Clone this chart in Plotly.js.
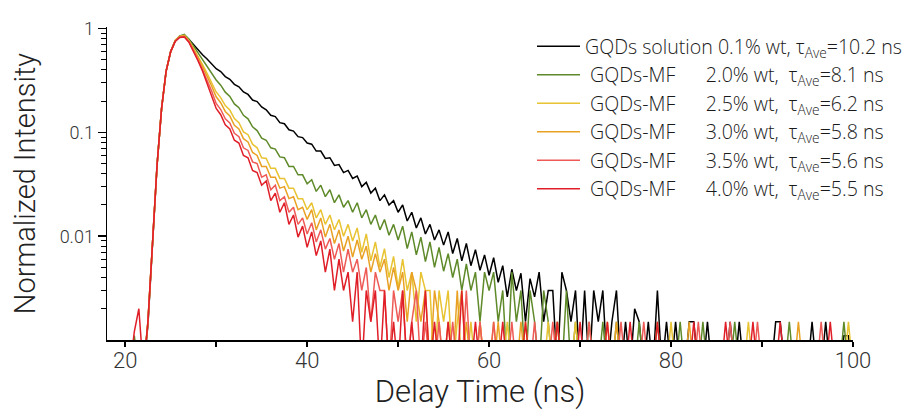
<!DOCTYPE html>
<html>
<head>
<meta charset="utf-8">
<script src="https://cdn.plot.ly/plotly-3.0.1.min.js"></script>
<style>html,body{margin:0;padding:0;background:#fff;}#chart{width:914px;height:410px;}</style>
</head>
<body>
<div id="chart"></div>
<script>
// Delay time grid (ns)
const delayTime = [
20.5,21,21.5,22,22.5,23,23.5,24,24.5,25,
25.5,26,26.5,27,27.5,28,28.5,29,29.5,30,
30.5,31,31.5,32,32.5,33,33.5,34,34.5,35,
35.5,36,36.5,37,37.5,38,38.5,39,39.5,40,
40.5,41,41.5,42,42.5,43,43.5,44,44.5,45,
45.5,46,46.5,47,47.5,48,48.5,49,49.5,50,
50.5,51,51.5,52,52.5,53,53.5,54,54.5,55,
55.5,56,56.5,57,57.5,58,58.5,59,59.5,60,
60.5,61,61.5,62,62.5,63,63.5,64,64.5,65,
65.5,66,66.5,67,67.5,68,68.5,69,69.5,70,
70.5,71,71.5,72,72.5,73,73.5,74,74.5,75,
75.5,76,76.5,77,77.5,78,78.5,79,79.5,80,
80.5,81,81.5,82,82.5,83,83.5,84,84.5,85,
85.5,86,86.5,87,87.5,88,88.5,89,89.5,90,
90.5,91,91.5,92,92.5,93,93.5,94,94.5,95,
95.5,96,96.5,97,97.5,98,98.5,99,99.5,100];

const solution01 = [
0.0005,0.0005,0.0005,0.0005,0.0014,0.0085,0.048,0.17,0.39,0.60,
0.76,0.84,0.86,0.79,0.70,0.62,0.56,0.51,0.46,0.41,
0.385,0.345,0.325,0.29,0.275,0.245,0.232,0.205,0.198,0.176,
0.165,0.146,0.142,0.124,0.121,0.106,0.103,0.091,0.089,0.079,
0.077,0.066,0.066,0.056,0.057,0.048,0.049,0.041,0.043,0.036,
0.038,0.030,0.033,0.026,0.029,0.022,0.025,0.020,0.022,0.017,
0.020,0.014,0.017,0.012,0.015,0.0105,0.013,0.0092,0.0115,0.0082,
0.011,0.0068,0.0095,0.0058,0.0085,0.0052,0.0074,0.0047,0.0066,0.0042,
0.0062,0.0036,0.0052,0.0026,0.0048,0.0030,0.0044,0.0015,0.0039,0.0026,
0.0045,0.0015,0.0030,0.0030,0.0005,0.0045,0.0030,0.0015,0.0030,0.0005,
0.0030,0.0005,0.0030,0.0015,0.0030,0.0005,0.0015,0.0030,0.0005,0.0015,
0.0005,0.0020,0.0015,0.0005,0.0015,0.0005,0.0030,0.0005,0.0015,0.0005,
0.0015,0.0005,0.0005,0.0015,0.0015,0.0005,0.0005,0.0015,0.0005,0.0005,
0.0005,0.0005,0.0015,0.0005,0.0015,0.0005,0.0005,0.0005,0.0005,0.0005,
0.0005,0.0005,0.0015,0.0015,0.0005,0.0005,0.0005,0.0005,0.0005,0.0005,
0.0015,0.0005,0.0005,0.0015,0.0005,0.0005,0.0005,0.0011,0.0011,0.0005];

const mf20 = [
0.0005,0.0011,0.0005,0.0005,0.0015,0.0085,0.048,0.17,0.39,0.60,
0.77,0.85,0.88,0.79,0.68,0.58,0.50,0.43,0.37,0.32,
0.285,0.244,0.222,0.188,0.173,0.146,0.135,0.113,0.104,0.088,
0.084,0.071,0.069,0.058,0.057,0.047,0.047,0.039,0.039,0.032,
0.035,0.027,0.031,0.024,0.028,0.021,0.025,0.019,0.022,0.017,
0.021,0.015,0.018,0.013,0.016,0.0115,0.0145,0.0102,0.013,0.0092,
0.0125,0.0076,0.011,0.0066,0.0098,0.0057,0.0088,0.0050,0.0078,0.0046,
0.0068,0.0040,0.0060,0.0030,0.0054,0.0030,0.0045,0.0015,0.0045,0.0030,
0.0045,0.0015,0.0030,0.0005,0.0045,0.0015,0.0030,0.0005,0.0030,0.0015,
0.0005,0.0030,0.0015,0.0005,0.0015,0.0005,0.0030,0.0005,0.0015,0.0005,
0.0005,0.0015,0.0005,0.0005,0.0015,0.0005,0.0005,0.0015,0.0005,0.0005,
0.0005,0.0005,0.0015,0.0005,0.0005,0.0005,0.0015,0.0005,0.0005,0.0005,
0.0005,0.0015,0.0005,0.0005,0.0005,0.0005,0.0015,0.0005,0.0005,0.0005,
0.0005,0.0005,0.0005,0.0015,0.0005,0.0005,0.0005,0.0005,0.0005,0.0005,
0.0005,0.0005,0.0005,0.0005,0.0005,0.0015,0.0005,0.0005,0.0005,0.0005,
0.0005,0.0005,0.0005,0.0005,0.0005,0.0005,0.0005,0.0015,0.0005,0.0005];

const mf25 = [
0.0005,0.0005,0.0005,0.0005,0.0015,0.0085,0.048,0.17,0.39,0.60,
0.77,0.84,0.86,0.77,0.65,0.54,0.45,0.37,0.30,0.245,
0.216,0.181,0.164,0.136,0.124,0.101,0.095,0.077,0.071,0.057,
0.056,0.045,0.045,0.036,0.036,0.029,0.029,0.023,0.023,0.018,
0.021,0.015,0.018,0.013,0.016,0.0115,0.0145,0.010,0.013,0.0090,
0.012,0.0070,0.0105,0.0058,0.0088,0.0050,0.0076,0.0040,0.0064,0.0032,
0.0060,0.0030,0.0045,0.0015,0.0045,0.0030,0.0030,0.0005,0.0030,0.0015,
0.0030,0.0005,0.0015,0.0030,0.0005,0.0015,0.0005,0.0015,0.0005,0.0005,
0.0015,0.0005,0.0005,0.0015,0.0005,0.0005,0.0005,0.0015,0.0005,0.0005,
0.0005,0.0005,0.0015,0.0005,0.0005,0.0005,0.0005,0.0005,0.0015,0.0005,
0.0005,0.0005,0.0005,0.0005,0.0005,0.0015,0.0005,0.0005,0.0005,0.0005,
0.0005,0.0005,0.0005,0.0005,0.0005,0.0005,0.0005,0.0005,0.0005,0.0015,
0.0005,0.0005,0.0005,0.0005,0.0005,0.0005,0.0005,0.0005,0.0005,0.0005,
0.0005,0.0005,0.0005,0.0005,0.0005,0.0005,0.0015,0.0005,0.0005,0.0005,
0.0005,0.0005,0.0005,0.0005,0.0005,0.0005,0.0005,0.0005,0.0005,0.0005,
0.0005,0.0005,0.0005,0.0005,0.0005,0.0005,0.0005,0.0005,0.0015,0.0005];

const mf30 = [
0.0005,0.0005,0.0005,0.0005,0.0015,0.0085,0.048,0.17,0.39,0.60,
0.76,0.84,0.85,0.76,0.64,0.53,0.43,0.35,0.28,0.22,
0.193,0.159,0.144,0.117,0.108,0.087,0.081,0.064,0.060,0.047,
0.047,0.037,0.037,0.029,0.030,0.023,0.024,0.018,0.019,0.0145,
0.018,0.0115,0.015,0.0098,0.013,0.0085,0.0115,0.0072,0.0100,0.0063,
0.0092,0.0060,0.0080,0.0045,0.0068,0.0045,0.0060,0.0030,0.0050,0.0030,
0.0045,0.0015,0.0045,0.0030,0.0015,0.0030,0.0005,0.0030,0.0015,0.0005,
0.0015,0.0005,0.0030,0.0005,0.0015,0.0005,0.0005,0.0015,0.0005,0.0005,
0.0005,0.0015,0.0005,0.0005,0.0005,0.0005,0.0015,0.0005,0.0005,0.0005,
0.0005,0.0005,0.0005,0.0005,0.0015,0.0005,0.0005,0.0005,0.0005,0.0005,
0.0005,0.0005,0.0005,0.0005,0.0005,0.0005,0.0005,0.0015,0.0005,0.0005,
0.0005,0.0005,0.0005,0.0005,0.0005,0.0005,0.0005,0.0005,0.0005,0.0005,
0.0005,0.0005,0.0005,0.0015,0.0005,0.0005,0.0005,0.0005,0.0005,0.0005,
0.0005,0.0005,0.0005,0.0005,0.0005,0.0005,0.0005,0.0005,0.0005,0.0005,
0.0005,0.0005,0.0005,0.0005,0.0005,0.0005,0.0005,0.0015,0.0005,0.0005,
0.0005,0.0005,0.0005,0.0005,0.0005,0.0005,0.0005,0.0005,0.0005,0.0005];

const mf35 = [
0.0005,0.0005,0.0005,0.0005,0.0015,0.0085,0.048,0.17,0.39,0.60,
0.76,0.83,0.84,0.75,0.62,0.50,0.40,0.32,0.25,0.19,
0.166,0.135,0.123,0.098,0.091,0.071,0.067,0.052,0.050,0.037,
0.039,0.028,0.031,0.022,0.024,0.017,0.019,0.013,0.015,0.0105,
0.0135,0.0088,0.0115,0.0075,0.0095,0.0060,0.0085,0.0045,0.0075,0.0045,
0.0060,0.0030,0.0050,0.0015,0.0045,0.0030,0.0030,0.0005,0.0030,0.0015,
0.0030,0.0005,0.0015,0.0030,0.0005,0.0015,0.0005,0.0005,0.0015,0.0005,
0.0005,0.0015,0.0005,0.0005,0.0030,0.0005,0.0005,0.0015,0.0005,0.0005,
0.0015,0.0005,0.0005,0.0005,0.0015,0.0005,0.0005,0.0005,0.0005,0.0015,
0.0005,0.0005,0.0005,0.0015,0.0005,0.0005,0.0005,0.0005,0.0005,0.0005,
0.0005,0.0015,0.0005,0.0005,0.0005,0.0005,0.0005,0.0005,0.0015,0.0005,
0.0005,0.0005,0.0005,0.0015,0.0005,0.0005,0.0005,0.0005,0.0005,0.0005,
0.0005,0.0005,0.0005,0.0005,0.0005,0.0015,0.0005,0.0005,0.0005,0.0005,
0.0005,0.0005,0.0015,0.0005,0.0005,0.0005,0.0005,0.0005,0.0015,0.0005,
0.0005,0.0005,0.0005,0.0005,0.0005,0.0005,0.0005,0.0005,0.0005,0.0005,
0.0005,0.0005,0.0015,0.0005,0.0005,0.0005,0.0005,0.0005,0.0005,0.0005];

const mf40 = [
0.0005,0.0012,0.0020,0.0005,0.0015,0.0085,0.048,0.17,0.39,0.60,
0.75,0.82,0.83,0.74,0.61,0.49,0.39,0.30,0.23,0.17,
0.148,0.118,0.108,0.084,0.079,0.060,0.057,0.043,0.041,0.031,
0.034,0.022,0.026,0.017,0.021,0.013,0.016,0.0098,0.0125,0.0078,
0.0110,0.0065,0.0090,0.0045,0.0075,0.0030,0.0060,0.0030,0.0045,0.0015,
0.0045,0.0005,0.0030,0.0015,0.0030,0.0005,0.0030,0.0005,0.0015,0.0005,
0.0030,0.0005,0.0015,0.0005,0.0005,0.0030,0.0005,0.0015,0.0005,0.0005,
0.0015,0.0005,0.0005,0.0030,0.0005,0.0005,0.0015,0.0005,0.0005,0.0005,
0.0005,0.0005,0.0015,0.0005,0.0005,0.0005,0.0005,0.0015,0.0005,0.0005,
0.0005,0.0005,0.0005,0.0005,0.0015,0.0005,0.0005,0.0005,0.0005,0.0015,
0.0005,0.0005,0.0005,0.0005,0.0005,0.0015,0.0005,0.0005,0.0005,0.0005,
0.0015,0.0005,0.0005,0.0005,0.0005,0.0005,0.0015,0.0005,0.0005,0.0005,
0.0005,0.0005,0.0005,0.0005,0.0015,0.0005,0.0005,0.0005,0.0005,0.0005,
0.0005,0.0015,0.0005,0.0005,0.0005,0.0005,0.0005,0.0015,0.0005,0.0005,
0.0005,0.0005,0.0005,0.0015,0.0005,0.0005,0.0005,0.0005,0.0005,0.0005,
0.0005,0.0005,0.0005,0.0005,0.0015,0.0005,0.0005,0.0005,0.0005,0.0005];

const NB = '\u00a0';
const seriesNames = [
  'GQDs solution 0.1% wt, τ<sub>Ave</sub>=10.2 ns',
  NB+'GQDs-MF'+NB+NB+NB+NB+NB+' 2.0% wt,'+NB+' τ<sub>Ave</sub>=8.1 ns',
  NB+'GQDs-MF'+NB+NB+NB+NB+NB+' 2.5% wt,'+NB+' τ<sub>Ave</sub>=6.2 ns',
  NB+'GQDs-MF'+NB+NB+NB+NB+NB+' 3.0% wt,'+NB+' τ<sub>Ave</sub>=5.8 ns',
  NB+'GQDs-MF'+NB+NB+NB+NB+NB+' 3.5% wt,'+NB+' τ<sub>Ave</sub>=5.6 ns',
  NB+'GQDs-MF'+NB+NB+NB+NB+NB+' 4.0% wt,'+NB+' τ<sub>Ave</sub>=5.5 ns'
];
const seriesValues = [solution01, mf20, mf25, mf30, mf35, mf40];
const seriesColors = ['#000000', '#5f8a2a', '#e8c332', '#e9a124', '#ee5a56', '#e01e28'];

const traces = seriesValues.map((v, i) => ({
  x: delayTime, y: v, type: 'scatter', mode: 'lines', name: seriesNames[i],
  line: {color: seriesColors[i], width: 1.5}
}));

const FONT = 'Roboto, Noto Sans, sans-serif';
const LEGFONT = 'Open Sans, Noto Sans, sans-serif';
const layout = {
  width: 914, height: 410,
  margin: {l: 107, r: 61, t: 27, b: 70, autoexpand: false},
  paper_bgcolor: '#fff', plot_bgcolor: '#fff',
  showlegend: true,
  legend: {x: 0.5697, y: 1.0, xanchor: 'left', yanchor: 'top', bgcolor: 'rgba(0,0,0,0)',
    itemwidth: 43,
    font: {family: LEGFONT, size: 19.6, color: '#1a1a1a', weight: 300}, tracegroupgap: 0},
  xaxis: {
    range: [18, 100], showgrid: false, zeroline: false,
    showline: true, linecolor: '#000', linewidth: 1.5,
    ticks: 'outside', ticklen: 5, tickwidth: 1.5, tickcolor: '#000',
    tick0: 0, dtick: 20, ticklabelstandoff: -5,
    minor: {dtick: 10, ticks: 'outside', ticklen: 5, tickwidth: 1.5, tickcolor: '#000', showgrid: false},
    tickfont: {family: FONT, size: 22, color: '#333', weight: 300},
    title: {text: 'Delay Time (ns)', font: {family: FONT, size: 31, color: '#222', weight: 300}, standoff: 14}
  },
  yaxis: {
    type: 'log', range: [-3, 0.015], showgrid: false, zeroline: false,
    showline: true, linecolor: '#000', linewidth: 1.5,
    ticks: 'outside', ticklen: 8, tickwidth: 1.5, tickcolor: '#000',
    tickvals: [0.01, 0.1, 1], ticktext: ['0.01', '0.1', '1'],
    minor: {tickvals: [0.002,0.003,0.004,0.005,0.006,0.007,0.008,0.009,0.02,0.03,0.04,0.05,0.06,0.07,0.08,0.09,0.2,0.3,0.4,0.5,0.6,0.7,0.8,0.9],
      ticks: 'outside', ticklen: 5, tickwidth: 1, tickcolor: '#000', showgrid: false},
    tickfont: {family: FONT, size: 18, color: '#333', weight: 300},
    title: {text: 'Normalized Intensity', font: {family: FONT, size: 29, color: '#222', weight: 300}, standoff: 15}
  }
};

Plotly.newPlot('chart', traces, layout, {displayModeBar: false, staticPlot: true});
</script>
</body>
</html>
